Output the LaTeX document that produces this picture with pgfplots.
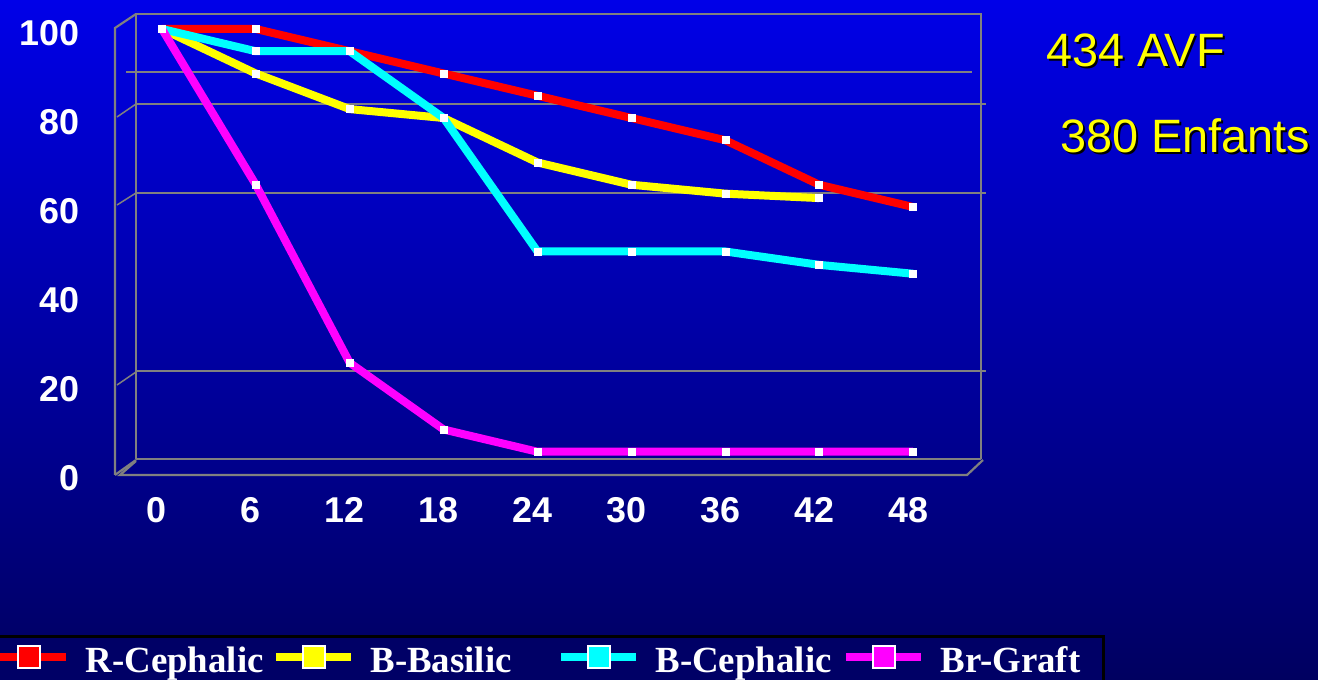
\documentclass[border=0pt]{standalone}
\usepackage{fontspec}
\setmainfont{Liberation Sans}
\newfontfamily\timesfont{Liberation Serif}
\usepackage{pgfplots}
\pgfplotsset{compat=1.18}

\definecolor{bgtop}{RGB}{0,0,232}
\definecolor{bgbot}{RGB}{0,0,96}
\definecolor{legbg}{RGB}{0,0,102}
\definecolor{boxgray}{RGB}{128,128,128}
\definecolor{cyanline}{RGB}{0,255,255}
\definecolor{magline}{RGB}{255,0,255}
\definecolor{yelline}{RGB}{255,255,0}

\pgfplotsset{
  legimg/.style={legend image code/.code={
    \draw[#1,line width=8bp] (0bp,2bp) -- (75bp,2bp);
    \draw[fill=#1,draw=white,line width=1.5bp] (26.5bp,-9bp) rectangle (48.5bp,13bp);}},
  serie/.style={#1, line width=8bp, mark=square*, mark size=3.5bp,
    mark options={fill=white,draw=white,line width=0.5bp}, legimg=#1},
}

\begin{document}
\begin{tikzpicture}
\shade[top color=bgtop,bottom color=bgbot] (0,0) rectangle (1318bp,680bp);

% 3D frame, drawn in picture pixels (y downwards)
\begin{scope}[x=1bp,y=-1bp,yshift=680bp,draw=boxgray,line width=2.2bp]
  \draw (136,459) -- (136,14) -- (981,14) -- (981,459);
  \draw (136,459) -- (981,459);
  \draw (115,475) -- (115,28) -- (136,14);
  \draw (136,460) -- (115,475);
  \draw (136,461) -- (120,475) -- (967,475) -- (983,460);
  \begin{scope}[line width=1.5bp]
    \draw (126,72) -- (972,72);
    \draw (136,104) -- (986,104);
    \draw (136,193) -- (986,193);
    \draw (136,371) -- (986,371);
    \draw (117,117) -- (136,104);
    \draw (117,205) -- (136,193);
    \draw (117,385) -- (136,372);
  \end{scope}
  \node[anchor=base west,inner sep=0pt,text=black,font=\fontsize{47}{50}\selectfont] at (1047,69) {434 AVF};
  \node[anchor=base west,inner sep=0pt,text=yelline,font=\fontsize{47}{50}\selectfont] at (1045,67) {434 AVF};
  \node[anchor=base west,inner sep=0pt,text=black,font=\fontsize{47}{50}\selectfont] at (1061,155) {380 Enfants};
  \node[anchor=base west,inner sep=0pt,text=yelline,font=\fontsize{47}{50}\selectfont] at (1059,153) {380 Enfants};
\end{scope}

\begin{axis}[
  at={(115bp,206bp)}, anchor=south west,
  scale only axis, width=845bp, height=445bp,
  xmin=-3, xmax=51, ymin=0, ymax=100,
  clip=false,
  axis line style={draw=none}, tick style={draw=none}, major tick length=0pt,
  xtick={0,6,...,48}, ytick={0,20,...,100},
  /pgf/number format/assume math mode=true,
  ticklabel style={font=\fontsize{36}{40}\selectfont\bfseries, text=white},
  xticklabel style={anchor=north, inner sep=0pt, yshift=-23bp, xshift=-5bp},
  yticklabel style={anchor=east, inner sep=0pt, xshift=-35bp, yshift=-4bp},
  legend columns=4,
  legend style={at={(1.1716,-0.3618)}, anchor=north east, draw=black, line width=3bp,
    fill=legbg, inner xsep=3bp, inner ysep=5bp,
    nodes={inner sep=0pt, text=white, font=\timesfont\bfseries\fontsize{37}{40}\selectfont,
      text height=31bp, text depth=4bp},
    /tikz/every odd column/.append style={column sep=15bp}},
]
\addplot[serie=red] coordinates {
  (0,100) (6,100) (12,95) (18,90) (24,85) (30,80) (36,75) (42,65) (48,60)};
\addlegendentry{\makebox[187bp][l]{R-Cephalic}}
\addplot[serie=yelline] coordinates {
  (0,100) (6,90) (12,82) (18,80) (24,70) (30,65) (36,63) (42,62)};
\addlegendentry{\makebox[187bp][l]{B-Basilic}}
\addplot[serie=cyanline] coordinates {
  (0,100) (6,95) (12,95) (18,80) (24,50) (30,50) (36,50) (42,47) (48,45)};
\addlegendentry{\makebox[187bp][l]{B-Cephalic}}
\addplot[serie=magline] coordinates {
  (0,100) (6,65) (12,25) (18,10) (24,5) (30,5) (36,5) (42,5) (48,5)};
\addlegendentry{\makebox[160bp][l]{Br-Graft}}
\end{axis}

\pgfresetboundingbox
\path[use as bounding box] (0,0) rectangle (1318bp,680bp);
\end{tikzpicture}
\end{document}
